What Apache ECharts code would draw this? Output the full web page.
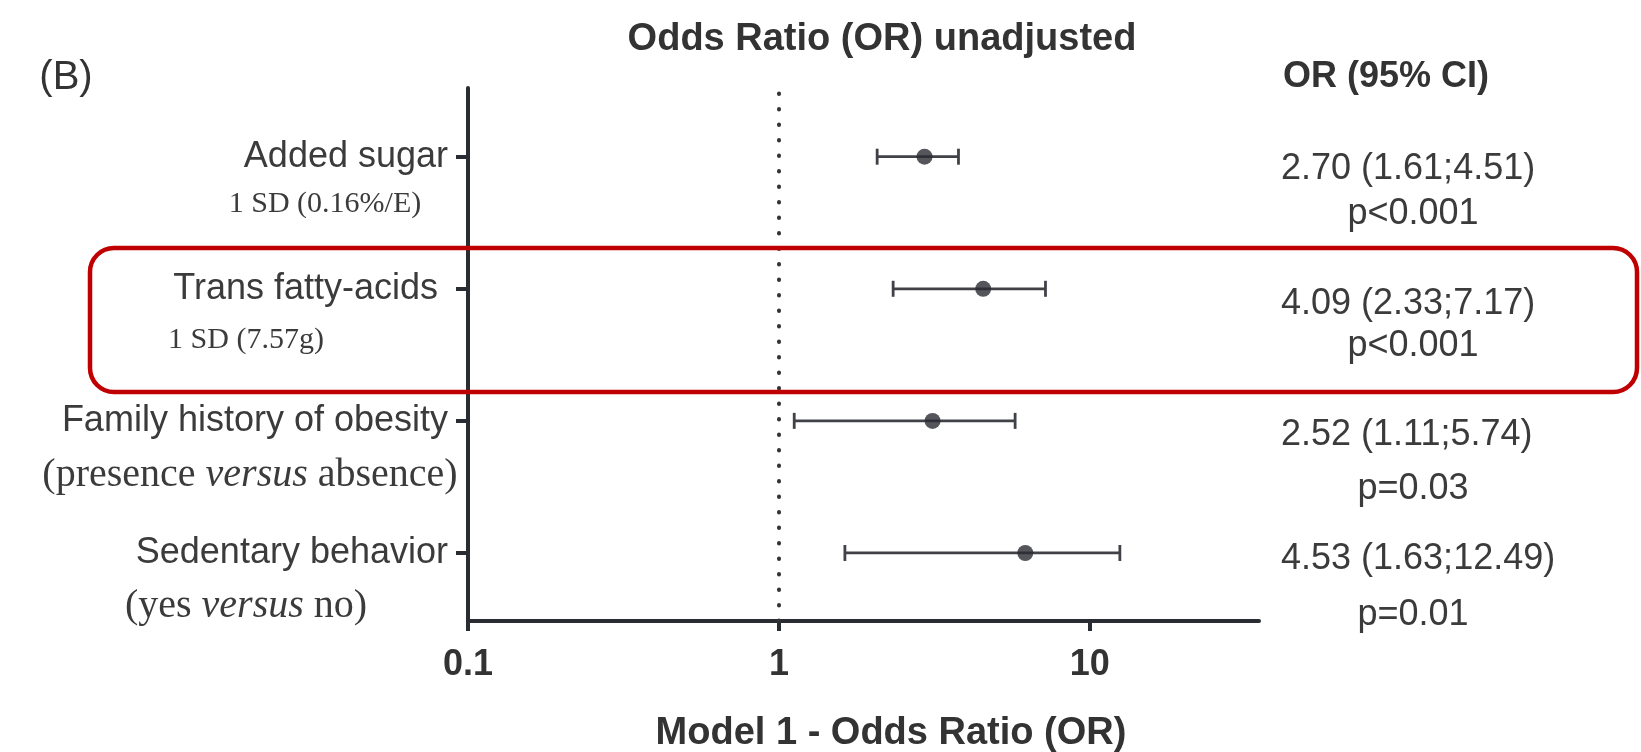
<!DOCTYPE html>
<html>
<head>
<meta charset="utf-8">
<script src="https://cdn.jsdelivr.net/npm/echarts@6/dist/echarts.min.js"></script>
<style>
  html, body { margin: 0; padding: 0; background: #fff; }
  #chart { width: 1641px; height: 752px; }
</style>
</head>
<body>
<div id="chart"></div>
<script>
// rows, top to bottom
const categories = ["Added sugar", "Trans fatty-acids ", "Family history of obesity", "Sedentary behavior"];
const subLabels = ["1 SD (0.16%/E)", "1 SD (7.57g)", "(presence versus absence)", "(yes versus no)"];
const oddsRatio = [2.94, 4.54, 3.12, 6.2];
const ciLower = [2.07, 2.33, 1.12, 1.63];
const ciUpper = [3.78, 7.2, 5.75, 12.49];
const orText = ["2.70 (1.61;4.51)", "4.09 (2.33;7.17)", "2.52 (1.11;5.74)", "4.53 (1.63;12.49)"];
const pText = ["p<0.001", "p<0.001", "p=0.03", "p=0.01"];
const xTicks = [0.1, 1, 10];

// layout of the text around the plot
const subX = [325, 246, 250, 246];
const subY = [204, 340, 475, 606];
const subSize = [30, 30, 40, 40];
const orY = [169, 304, 435, 559];
const pY = [214, 346, 489, 615];

const SANS = "'Liberation Sans', Arial, sans-serif";
const SERIF = "'Liberation Serif', 'Times New Roman', serif";
const INK = "#2a2c33";
const TXT = "#3b3b3b";

const rowY = (i) => categories.length - i;

const chart = echarts.init(document.getElementById("chart"));

const subText = (s) =>
  s.split(/(versus)/).filter((p) => p).map((p) => (p === "versus" ? "{i|" + p + "}" : "{r|" + p + "}")).join("");

const graphics = [
  {
    type: "text", x: 66, y: 78,
    style: { text: "(B)", font: "40px " + SANS, fill: "#333", align: "center", verticalAlign: "middle" },
  },
  {
    type: "text", x: 882, y: 40,
    style: { text: "Odds Ratio (OR) unadjusted", font: "bold 38px " + SANS, fill: "#333", align: "center", verticalAlign: "middle" },
  },
  {
    type: "text", x: 891, y: 734,
    style: { text: "Model 1 - Odds Ratio (OR)", font: "bold 38px " + SANS, fill: "#333", align: "center", verticalAlign: "middle" },
  },
  {
    type: "text", x: 1386, y: 77,
    style: { text: "OR (95% CI)", font: "bold 36px " + SANS, fill: "#333", align: "center", verticalAlign: "middle" },
  },
];

categories.forEach((c, i) => {
  graphics.push({
    type: "text", x: subX[i], y: subY[i],
    style: {
      text: subText(subLabels[i]),
      align: "center", verticalAlign: "middle",
      rich: {
        r: { fontFamily: SERIF, fontSize: subSize[i], fill: TXT, color: TXT },
        i: { fontFamily: SERIF, fontSize: subSize[i], fontStyle: "italic", fill: TXT, color: TXT },
      },
    },
  });
  graphics.push({
    type: "text", x: 1281, y: orY[i],
    style: { text: orText[i], font: "36px " + SANS, fill: TXT, align: "left", verticalAlign: "middle" },
  });
  graphics.push({
    type: "text", x: 1413, y: pY[i],
    style: { text: pText[i], font: "36px " + SANS, fill: TXT, align: "center", verticalAlign: "middle" },
  });
});

// highlighted row
graphics.push({
  type: "rect", z: 100,
  shape: { x: 90, y: 248, width: 1547, height: 144, r: 24 },
  style: { fill: "none", stroke: "#c00000", lineWidth: 4.5 },
});

chart.setOption({
  animation: false,
  backgroundColor: "#fff",
  grid: { left: 468, top: 88, right: 382, bottom: 131 },
  xAxis: {
    type: "log",
    logBase: 10,
    min: 0.1,
    max: 35,
    axisLine: { lineStyle: { color: INK, width: 4 } },
    axisTick: { customValues: xTicks, length: 10, lineStyle: { color: INK, width: 4 } },
    axisLabel: {
      customValues: xTicks,
      margin: 26,
      formatter: (v) => String(+v),
      fontSize: 36,
      fontWeight: "bold",
      fontFamily: SANS,
      color: "#333",
    },
    splitLine: { show: false },
  },
  yAxis: {
    type: "value",
    min: 0.485,
    max: 4.52,
    axisLine: { show: true, lineStyle: { color: INK, width: 4 } },
    axisTick: { show: true, customValues: [1, 2, 3, 4], length: 12, lineStyle: { color: INK, width: 4 } },
    axisLabel: {
      customValues: [1, 2, 3, 4],
      margin: 20,
      formatter: (v) => categories[categories.length - v],
      fontSize: 36,
      fontFamily: SANS,
      color: TXT,
    },
    splitLine: { show: false },
  },
  series: [
    {
      type: "custom",
      data: categories.map((c, i) => [ciLower[i], ciUpper[i], rowY(i)]),
      encode: { x: [0, 1], y: 2 },
      renderItem: (params, api) => {
        const y = api.value(2);
        const a = api.coord([api.value(0), y]);
        const b = api.coord([api.value(1), y]);
        const h = 8;
        const style = { stroke: "#404248", lineWidth: 2.8 };
        return {
          type: "group",
          children: [
            { type: "line", shape: { x1: a[0], y1: a[1], x2: b[0], y2: b[1] }, style },
            { type: "line", shape: { x1: a[0], y1: a[1] - h, x2: a[0], y2: a[1] + h }, style },
            { type: "line", shape: { x1: b[0], y1: b[1] - h, x2: b[0], y2: b[1] + h }, style },
          ],
        };
      },
    },
    {
      type: "scatter",
      data: categories.map((c, i) => [oddsRatio[i], rowY(i)]),
      symbolSize: 16,
      itemStyle: { color: INK },
      z: 5,
      markLine: {
        silent: true,
        symbol: "none",
        label: { show: false },
        lineStyle: { color: "#333", width: 4, type: [0.5, 15], cap: "round" },
        data: [{ xAxis: 1 }],
      },
    },
  ],
  graphic: graphics,
});
</script>
</body>
</html>
